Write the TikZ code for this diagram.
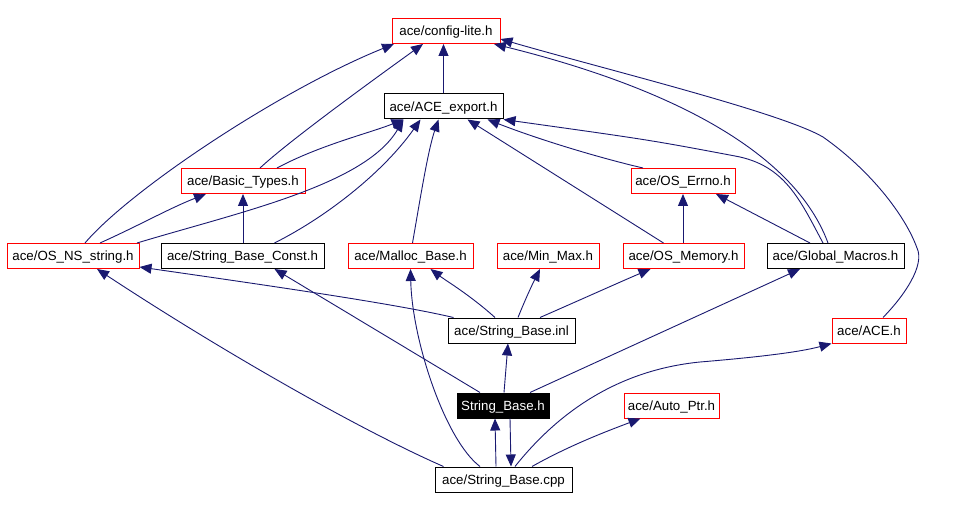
\documentclass[tikz,border=0pt]{standalone}
\usepackage{fontspec}
\setmainfont{Liberation Sans}
\usetikzlibrary{arrows.meta}
\definecolor{edgeblue}{RGB}{25,25,112}
\begin{document}
\begin{tikzpicture}[x=1pt,y=-1pt,
  box/.style={draw=black, line width=1pt, minimum height=25pt, inner sep=0pt, text height=10.5pt, text depth=0.5pt, font=\fontsize{13.3}{16}\selectfont, fill=white},
  redbox/.style={box, draw=red},
  focus/.style={box, fill=black, text=white},
  e/.style={draw=edgeblue, line width=0.9pt, -{Triangle[length=12pt,width=10pt]}}]
\useasboundingbox[fill=white] (0,0) rectangle (960,510);
% nodes
\node[redbox, minimum width=108pt] (cfg) at (446,31) {ace/config-lite.h};
\node[box, minimum width=119pt] (exp) at (443.5,106.5) {ace/ACE\_export.h};
\node[redbox, minimum width=124pt] (bt) at (243,181) {ace/Basic\_Types.h};
\node[redbox, minimum width=104pt] (ose) at (683,181) {ace/OS\_Errno.h};
\node[redbox, minimum width=132pt] (osns) at (73,256) {ace/OS\_NS\_string.h};
\node[box, minimum width=163pt] (sbc) at (242.5,256) {ace/String\_Base\_Const.h};
\node[redbox, minimum width=125pt] (mb) at (410.5,256) {ace/Malloc\_Base.h};
\node[redbox, minimum width=102pt] (mm) at (548,256) {ace/Min\_Max.h};
\node[redbox, minimum width=121pt] (osm) at (683.5,256) {ace/OS\_Memory.h};
\node[box, minimum width=137pt] (gm) at (835.5,256) {ace/Global\_Macros.h};
\node[box, minimum width=127pt] (inl) at (511.5,330.5) {ace/String\_Base.inl};
\node[redbox, minimum width=74pt] (ace) at (869,330.5) {ace/ACE.h};
\node[focus, minimum width=92pt] (sbh) at (503,405.5) {String\_Base.h};
\node[redbox, minimum width=95pt] (ap) at (671.5,405.5) {ace/Auto\_Ptr.h};
\node[box, minimum width=137pt] (cpp) at (503.5,479.5) {ace/String\_Base.cpp};
% edges to config-lite
\draw[e] (exp.north) -- (exp.north |- cfg.south);
\draw[e] ([xshift=17pt]bt.north) .. controls (290,140) and (380,75) .. ([xshift=-23pt]cfg.south);
\draw[e] ([xshift=12pt]osns.north) .. controls (130,190) and (280,90) .. ([xshift=-52pt]cfg.south);
\draw[e] ([xshift=-7.5pt]gm.north) .. controls (790,140) and (640,80) .. ([xshift=48pt]cfg.south);
\draw[e] ([xshift=14pt]ace.north) .. controls (905,295) and (925,265) .. (917,248) .. controls (905,215) and (870,170) .. (823,137) .. controls (780,112) and (600,68) .. ([yshift=-8pt]cfg.east);
% edges to ACE_export
\draw[e] ([xshift=34pt]bt.north) .. controls (320,145) and (370,133) .. ([xshift=-40pt]exp.south);
\draw[e] ([xshift=64pt]osns.north) .. controls (240,212) and (365,185) .. ([xshift=-40pt]exp.south);
\draw[e] ([xshift=32pt]sbc.north) .. controls (330,215) and (385,170) .. ([xshift=-23pt]exp.south);
\draw[e] ([xshift=2pt]mb.north) .. controls (420,200) and (428,150) .. ([xshift=-5pt]exp.south);
\draw[e] ([xshift=-20pt]osm.north) -- ([xshift=24pt]exp.south);
\draw[e] ([xshift=-40pt]ose.north) .. controls (600,158) and (540,140) .. ([xshift=44pt]exp.south);
\draw[e] ([xshift=-12.5pt]gm.north) .. controls (800,200) and (785,165) .. (735,156) .. controls (650,140) .. (exp.south east);
% edges to Basic_Types, OS_Errno
\draw[e] ([xshift=27pt]osns.north) .. controls (140,225) and (170,208) .. ([xshift=-37pt]bt.south);
\draw[e] (bt.south |- sbc.north) -- (bt.south);
\draw[e] (ose.south |- osm.north) -- (ose.south);
\draw[e] ([xshift=-25.5pt]gm.north) -- ([xshift=33pt]ose.south);
% edges from String_Base.inl
\draw[e] ([xshift=-58pt]inl.north) .. controls (400,305) and (300,290) .. ([yshift=2pt]osns.south east);
\draw[e] ([xshift=-16.5pt]inl.north) .. controls (470,295) and (445,280) .. ([xshift=20pt]mb.south);
\draw[e] ([xshift=6.5pt]inl.north) .. controls (525,300) and (532,285) .. ([xshift=-8pt]mm.south);
\draw[e] ([xshift=28.5pt]inl.north) .. controls (580,300) and (620,282) .. ([xshift=-33pt]osm.south);
% edges from String_Base.h
\draw[e] ([xshift=1pt]sbh.north) -- ([xshift=-3.5pt]inl.south);
\draw[e] ([xshift=-23pt]sbh.north) -- ([xshift=32pt]sbc.south);
\draw[e] ([xshift=27pt]sbh.north) -- ([xshift=-35.5pt]gm.south);
\draw[e] ([xshift=7pt]sbh.south) -- ([xshift=7.5pt]cpp.north);
% edges from String_Base.cpp
\draw[e] ([xshift=-7.5pt]cpp.north) -- ([xshift=-8pt]sbh.south);
\draw[e] ([xshift=-60pt]cpp.north) .. controls (360,430) and (220,350) .. ([xshift=24pt]osns.south);
\draw[e] ([xshift=-23.5pt]cpp.north) .. controls (445,440) and (412,340) .. (mb.south);
\draw[e] ([xshift=11.5pt]cpp.north) .. controls (560,410) and (620,370) .. (700,362) .. controls (760,357) and (800,352) .. (ace.south west);
\draw[e] ([xshift=28.5pt]cpp.north) .. controls (570,445) and (610,430) .. ([xshift=-31pt]ap.south);
\end{tikzpicture}
\end{document}
